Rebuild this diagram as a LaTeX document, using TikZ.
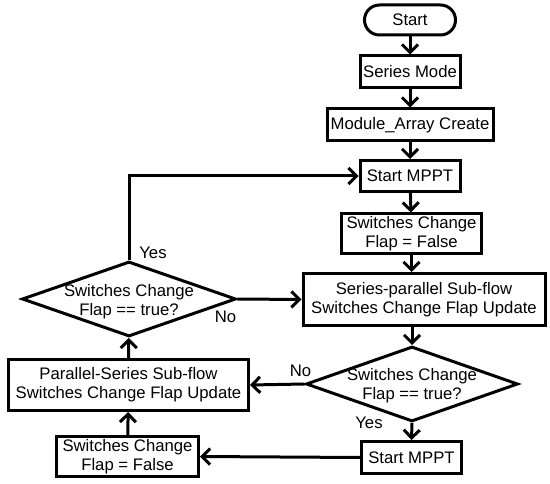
\documentclass[tikz,border=0pt]{standalone}
\usepackage{fontspec}
\setmainfont{Liberation Sans}
\usetikzlibrary{arrows.meta,positioning,calc,shapes.geometric}

\begin{document}
\begin{tikzpicture}[x=1pt,y=1pt,every node/.style={font=\fontsize{16.7}{19}\selectfont,align=center},
    procbox/.style={draw,line width=3pt,inner sep=2pt},
    termin/.style={procbox,rounded corners=15pt},
    decide/.style={draw,diamond,line width=3pt,inner sep=0pt},
    lbl/.style={inner sep=0pt},
    link/.style={line width=3pt,-{Straight Barb[length=8pt,width=16pt]}}]
    \useasboundingbox (0,0) rectangle (550,483);
    \node[termin,minimum width=91pt,minimum height=30pt] (start) at (410,463) {Start};
    \node[procbox,below=18pt of start,minimum width=100pt,minimum height=32pt] (series) {Series Mode};
    \node[procbox,below=18pt of series,minimum width=166pt,minimum height=32pt] (array) {Module\_Array Create};
    \node[procbox,below=16.5pt of array,minimum width=100pt,minimum height=31pt] (mpptA) {Start MPPT};
    \node[procbox,minimum width=140pt,minimum height=40pt] (flapA) at (411.5,249) {Switches Change\\Flap = False};
    \node[procbox,minimum width=242pt,minimum height=52pt] (spflow) at (424,183.5) {Series-parallel Sub-flow\\Switches Change Flap Update};
    \node[decide,minimum width=214pt,minimum height=75pt,label={[name=dltxt,yshift=-3pt]center:{Switches Change\\Flap == true?}}] (dl) at (129,184) {};
    \node[decide,minimum width=212pt,minimum height=75pt,label={[name=drtxt,yshift=-2pt]center:{Switches Change\\Flap == true?}}] (dr) at (412,99) {};
    \node[procbox,minimum width=240pt,minimum height=51pt] (psflow) at (128.5,98) {Parallel-Series Sub-flow\\Switches Change Flap Update};
    \node[procbox,minimum width=142pt,minimum height=40pt] (flapB) at (127.5,26.5) {Switches Change\\Flap = False};
    \node[procbox,minimum width=100pt,minimum height=32pt] (mpptB) at (411.5,25.5) {Start MPPT};
    % branch labels
    \node[lbl] (yesA) at ($(dl.north)+(24,7)$) {Yes};
    \node[lbl] (noA) at ($(dl.east)+(-12,-18)$) {No};
    \node[lbl] (noB) at ($(dr.west)+(-4,13)$) {No};
    \node[lbl] (yesB) at ($(dr.south)+(-43,0)$) {Yes};
    \foreach \x/\y in {start/series,series/array,array/mpptA,mpptA/flapA,flapB/psflow,psflow/dl}{\draw[link] (\x)--(\y);}
    \draw[link] (flapA.south) -- (flapA.south |- spflow.north);
    \draw[link] (dr.north |- spflow.south) -- (dr.north);
    \draw[link] (dr.south) -- (mpptB.north);
    \draw[link] (dr.west) -- (psflow.east);
    \draw[link] (mpptB.west) -- (flapB.east);
    \draw[link] (dl.east) -- (spflow.west);
    \draw[link] (dl.north) |- (mpptA.west);
  \end{tikzpicture}
\end{document}
